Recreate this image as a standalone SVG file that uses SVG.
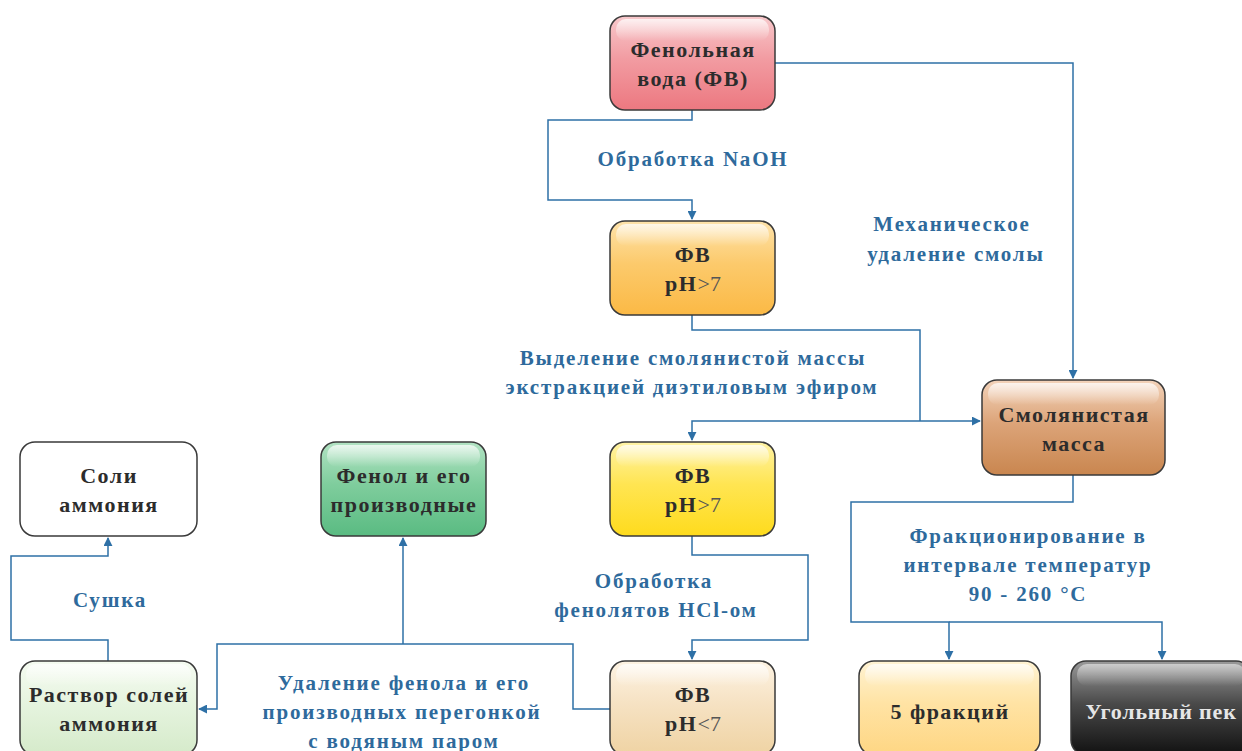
<svg xmlns="http://www.w3.org/2000/svg" width="1242" height="751" viewBox="0 0 1242 751">
<defs>
<linearGradient id="gRed" x1="0" y1="0" x2="0" y2="1"><stop offset="0" stop-color="#f8c9cc"/><stop offset="0.45" stop-color="#f29ca2"/><stop offset="1" stop-color="#ec7880"/></linearGradient>
<linearGradient id="gOrange" x1="0" y1="0" x2="0" y2="1"><stop offset="0" stop-color="#fee3ab"/><stop offset="0.45" stop-color="#fcca6c"/><stop offset="1" stop-color="#fbb945"/></linearGradient>
<linearGradient id="gBrown" x1="0" y1="0" x2="0" y2="1"><stop offset="0" stop-color="#f3d3ba"/><stop offset="0.45" stop-color="#dca479"/><stop offset="1" stop-color="#c9864f"/></linearGradient>
<linearGradient id="gYellow" x1="0" y1="0" x2="0" y2="1"><stop offset="0" stop-color="#fff3a6"/><stop offset="0.45" stop-color="#ffe552"/><stop offset="1" stop-color="#fedb1d"/></linearGradient>
<linearGradient id="gBeige" x1="0" y1="0" x2="0" y2="1"><stop offset="0" stop-color="#fdf3e3"/><stop offset="0.45" stop-color="#f6e2c3"/><stop offset="1" stop-color="#efd3a3"/></linearGradient>
<linearGradient id="gGreen" x1="0" y1="0" x2="0" y2="1"><stop offset="0" stop-color="#b2e3c3"/><stop offset="0.45" stop-color="#7fcd9d"/><stop offset="1" stop-color="#5abb82"/></linearGradient>
<linearGradient id="gLight" x1="0" y1="0" x2="0" y2="1"><stop offset="0" stop-color="#f5fbf1"/><stop offset="0.45" stop-color="#e6f4df"/><stop offset="1" stop-color="#d5eaca"/></linearGradient>
<linearGradient id="gFrac" x1="0" y1="0" x2="0" y2="1"><stop offset="0" stop-color="#fff3d3"/><stop offset="0.45" stop-color="#ffe3a4"/><stop offset="1" stop-color="#fed683"/></linearGradient>
<linearGradient id="gBlack" x1="0" y1="0" x2="0" y2="1"><stop offset="0" stop-color="#9a9a9a"/><stop offset="0.45" stop-color="#4a4a4a"/><stop offset="1" stop-color="#111"/></linearGradient>
<linearGradient id="gHi" x1="0" y1="0" x2="0" y2="1"><stop offset="0" stop-color="#fff" stop-opacity="0.75"/><stop offset="1" stop-color="#fff" stop-opacity="0"/></linearGradient>
<marker id="arr" viewBox="0 0 10 10" refX="9" refY="5" markerWidth="9" markerHeight="9" markerUnits="userSpaceOnUse" orient="auto"><path d="M0,0 L10,5 L0,10 Z" fill="#2e70a6"/></marker>
</defs>
<style>
.box{stroke:#3a3a3a;stroke-width:1.5}
.hi{fill:url(#gHi)}
.nt{font-family:"Liberation Serif",serif;font-weight:bold;font-size:22px;letter-spacing:1.5px;fill:#2c2c2c;text-anchor:middle}
.lt{font-family:"Liberation Serif",serif;font-weight:bold;font-size:21px;letter-spacing:1.8px;fill:#2e6a9c;text-anchor:middle}
.nb{font-weight:normal;fill:#555;letter-spacing:0}
.c{fill:none;stroke:#2e70a6;stroke-width:1.5}
</style>
<rect width="1242" height="751" fill="#fff"/>

<g id="connectors">
<path class="c" d="M692,110 V120 H548 V200 H692 V219" marker-end="url(#arr)"/>
<path class="c" d="M775,63 H1073 V378" marker-end="url(#arr)"/>
<path class="c" d="M692,315 V330 H920 V421"/>
<path class="c" d="M920,421 H980" marker-end="url(#arr)"/>
<path class="c" d="M920,421 H692 V440" marker-end="url(#arr)"/>
<path class="c" d="M1073,475 V502 H851 V622 H949 V659" marker-end="url(#arr)"/>
<path class="c" d="M949,622 H1162 V659" marker-end="url(#arr)"/>
<path class="c" d="M692,536 V555 H808 V640 H692 V659" marker-end="url(#arr)"/>
<path class="c" d="M610,709 H573 V644 H217 V709 H199" marker-end="url(#arr)"/>
<path class="c" d="M403,644 V538" marker-end="url(#arr)"/>
<path class="c" d="M108,661 V640 H11 V556 H108 V538" marker-end="url(#arr)"/>
</g>

<g id="labels">
<text class="lt" x="693" y="166">Обработка NaOH</text>
<text class="lt" x="952" y="231">Механическое</text>
<text class="lt" x="956" y="261">удаление смолы</text>
<text class="lt" x="693" y="365">Выделение смолянистой массы</text>
<text class="lt" x="692" y="394">экстракцией диэтиловым эфиром</text>
<text class="lt" x="654" y="588">Обработка</text>
<text class="lt" x="656" y="617">фенолятов HCl-ом</text>
<text class="lt" x="1028" y="543">Фракционирование в</text>
<text class="lt" x="1028" y="572">интервале температур</text>
<text class="lt" x="1028" y="601">90 - 260 °C</text>
<text class="lt" x="110" y="607">Сушка</text>
<text class="lt" x="404" y="690">Удаление фенола и его</text>
<text class="lt" x="402" y="719">производных перегонкой</text>
<text class="lt" x="404" y="748">с водяным паром</text>
</g>

<g id="n-fv">
<rect class="box" x="610" y="16" width="165" height="94" rx="15" fill="url(#gRed)"/>
<rect class="hi" x="616" y="19" width="153" height="22" rx="10"/>
<text class="nt" x="693" y="57">Фенольная</text>
<text class="nt" x="693" y="86">вода (ФВ)</text>
</g>

<g id="n-fv-ph1">
<rect class="box" x="610" y="221" width="165" height="94" rx="15" fill="url(#gOrange)"/>
<rect class="hi" x="616" y="224" width="153" height="22" rx="10"/>
<text class="nt" x="693" y="262">ФВ</text>
<text class="nt" x="693" y="291">pH<tspan class="nb">&gt;7</tspan></text>
</g>

<g id="n-smola">
<rect class="box" x="982" y="380" width="183" height="95" rx="15" fill="url(#gBrown)"/>
<rect class="hi" x="988" y="383" width="171" height="22" rx="10"/>
<text class="nt" x="1074" y="422">Смолянистая</text>
<text class="nt" x="1074" y="451">масса</text>
</g>

<g id="n-fv-ph2">
<rect class="box" x="610" y="442" width="165" height="94" rx="15" fill="url(#gYellow)"/>
<rect class="hi" x="616" y="445" width="153" height="22" rx="10"/>
<text class="nt" x="693" y="483">ФВ</text>
<text class="nt" x="693" y="512">pH<tspan class="nb">&gt;7</tspan></text>
</g>

<g id="n-fv-ph3">
<rect class="box" x="610" y="661" width="165" height="94" rx="15" fill="url(#gBeige)"/>
<rect class="hi" x="616" y="664" width="153" height="22" rx="10"/>
<text class="nt" x="693" y="702">ФВ</text>
<text class="nt" x="693" y="731">pH<tspan class="nb">&lt;7</tspan></text>
</g>

<g id="n-fenol">
<rect class="box" x="321" y="442" width="165" height="94" rx="15" fill="url(#gGreen)"/>
<rect class="hi" x="327" y="445" width="153" height="22" rx="10"/>
<text class="nt" x="404" y="483">Фенол и его</text>
<text class="nt" x="404" y="512">производные</text>
</g>

<g id="n-soli">
<rect class="box" x="20" y="442" width="177" height="94" rx="15" fill="#fff"/>
<text class="nt" x="109" y="483">Соли</text>
<text class="nt" x="109" y="512">аммония</text>
</g>

<g id="n-rastvor">
<rect class="box" x="20" y="661" width="177" height="94" rx="15" fill="url(#gLight)"/>
<rect class="hi" x="26" y="664" width="165" height="22" rx="10"/>
<text class="nt" x="109" y="702">Раствор солей</text>
<text class="nt" x="109" y="731">аммония</text>
</g>

<g id="n-frac">
<rect class="box" x="859" y="661" width="181" height="94" rx="15" fill="url(#gFrac)"/>
<rect class="hi" x="865" y="664" width="169" height="22" rx="10"/>
<text class="nt" x="950" y="719">5 фракций</text>
</g>

<g id="n-pek">
<rect class="box" x="1071" y="661" width="180" height="94" rx="15" fill="url(#gBlack)" stroke="#111"/>
<rect x="1077" y="664" width="168" height="22" rx="10" fill="url(#gHi)" opacity="0.7"/>
<text class="nt" x="1161" y="719" style="fill:#e6e6e6;letter-spacing:0.8px">Угольный пек</text>
</g>
</svg>
